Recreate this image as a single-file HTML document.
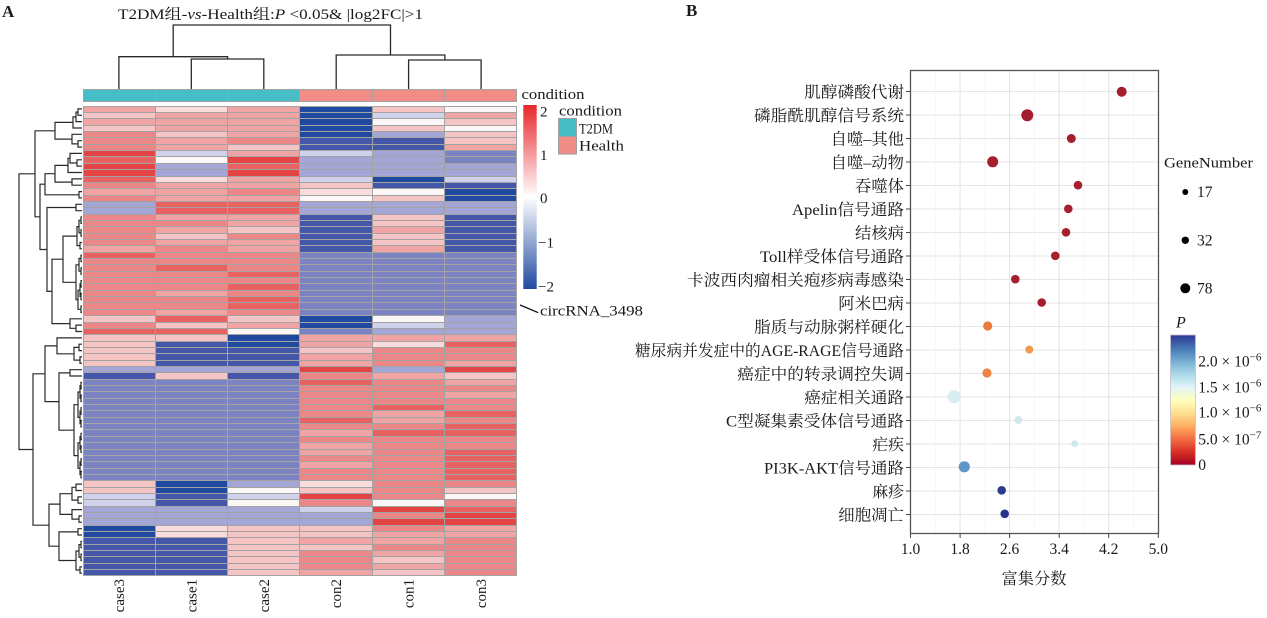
<!DOCTYPE html>
<html><head><meta charset="utf-8">
<style>
html,body{margin:0;padding:0;background:#fff;}
#w{position:relative;width:1267px;height:618px;overflow:hidden;background:#fff;}
svg{position:absolute;left:0;top:0;}
svg text{font-family:"Liberation Serif","Noto Serif CJK SC",serif;fill:#1a1a1a;}
.g{position:absolute;display:grid;grid-template-columns:repeat(6,1fr);gap:1px;padding:1px;box-sizing:border-box;background:#a3a3a3;}
#hm{left:82.7px;top:105.7px;width:434.6px;height:470.8px;grid-template-rows:repeat(74,1fr);}
#cb{left:82.7px;top:89.3px;width:434.6px;height:12.6px;grid-template-rows:1fr;}
.g i{display:block;}
.d{background:#1f4a9f}.m{background:#4557a8}.b{background:#7c83c3}.a{background:#a4a7d5}.c{background:#d0d1ea}
.w{background:#fcf7f7}.v{background:#f9dcdc}.p{background:#f5c4c4}.k{background:#f0a4a4}.q{background:#ec8787}
.r{background:#e86262}.s{background:#e54444}.t{background:#47bec6}.h{background:#ef8d86}
</style></head><body><div id="w">
<svg width="1267" height="618" viewBox="0 0 1267 618" xmlns="http://www.w3.org/2000/svg">
<defs>
<linearGradient id="hg" x1="0" y1="0" x2="0" y2="1">
<stop offset="0" stop-color="#e8262a"/><stop offset="0.5" stop-color="#ffffff"/><stop offset="1" stop-color="#1f4aa0"/>
</linearGradient>
<linearGradient id="pg" x1="0" y1="1" x2="0" y2="0">
<stop offset="0" stop-color="#a50026"/><stop offset="0.1" stop-color="#d73027"/><stop offset="0.2" stop-color="#f46d43"/><stop offset="0.3" stop-color="#fdae61"/><stop offset="0.4" stop-color="#fee090"/><stop offset="0.5" stop-color="#ffffbf"/><stop offset="0.6" stop-color="#e0f3f8"/><stop offset="0.7" stop-color="#abd9e9"/><stop offset="0.8" stop-color="#74add1"/><stop offset="0.9" stop-color="#4575b4"/><stop offset="1" stop-color="#313695"/>
</linearGradient>
</defs>

<!-- Panel A -->
<text x="2" y="17" font-size="17" font-weight="bold">A</text>
<text x="118" y="19" font-size="15" textLength="305" lengthAdjust="spacingAndGlyphs">T2DM组-<tspan font-style="italic">vs</tspan>-Health组:<tspan font-style="italic">P</tspan> &lt;0.05&amp; |log2FC|&gt;1</text>

<!-- column dendrogram -->
<path fill="none" stroke="#2a2a2a" stroke-width="1.3" d="M118.9 89V56.7H227.6V59 M191.3 89V59H263.8V89 M336.2 89V55H444.9V60 M408.6 89V60H481.1V89 M173.2 56.7V25H390.5V55"/>

<!-- row dendrogram -->
<path fill="none" stroke="#2a2a2a" stroke-width="1.2" d="
M82 108.9H78V115.3H82 M78 112.1H76V121.6H82 M76 116.9H73V128H82
M82 140.7H78V147.1H82 M82 134.3H72V143.9H78 M73 122.4H55V139.1H72
M82 159.8H77V166.1H82 M82 153.4H70V163H77 M70 158.2H68V172.5H82
M82 178.9H72V185.2H82 M68 165.4H55V182.1H72 M82 191.6H79V197.9H82 M55 173.7H45V194.8H79
M82 204.3H76V210.7H82
M82 217H81V223.4H82 M82 229.7H81V236.1H82 M82 242.5H80V248.8H82 M81 220.2H79V232.9H81 M79 226.6H77V245.6H80
M82 255.2H81V261.5H82 M82 267.9H81V274.3H82 M82 280.6H81V287H82 M82 293.3H81V299.7H82 M82 306.1H81V312.4H82
M81 258.4H79V271.1H81 M81 283.8H80V296.5H81 M80 290.2H78V309.3H81 M79 264.8H76V299.7H78
M77 236.1H63V282.3H76 M82 325.1H76V331.5H82 M82 318.8H70V328.3H76 M63 259.2H52V323.6H70
M76 207.5H47V291.4H52 M45 184.2H40V249.5H47 M55 130.8H35V216.8H40
M82 344.2H79V350.6H82 M82 356.9H80V363.3H82 M79 347.4H74V360.1H80 M82 337.9H57V353.8H74
M82 369.7H70V376H82
M82 382.4H81V388.7H82 M82 395.1H81V401.5H82 M82 407.8H81V414.2H82 M82 420.5H81V426.9H82
M82 433.3H81V439.6H82 M82 446H81V452.3H82 M82 458.7H81V465.1H82 M82 471.4H81V477.8H82
M81 385.6H80V398.3H81 M81 411H80V423.7H81 M81 436.5H80V449.2H81 M81 461.9H80V474.6H81
M80 392H78V417.4H80 M80 442.9H78V468.3H80 M78 404.7H74V455.6H78
M70 372.9H59V430.2H74 M57 345.9H45V401.6H59
M82 484.1H76V490.5H82 M82 496.9H78V503.2H82 M76 487.3H72V500.1H78
M82 515.9H79V522.3H82 M82 509.6H72V519.1H79 M72 493.7H60V514.4H72
M82 528.7H78V535H82 M82 541.4H81V547.7H82 M82 554.1H81V560.5H82 M82 566.8H80V573.2H82
M81 544.6H79V557.3H81 M79 551H76V570H80 M78 531.9H59V560.5H76
M60 504.1H49V546.2H59 M45 373.8H33V525.2H49 M35 173.8H19V449.5H33"/>

<!-- column labels -->
<text transform="translate(124,579) rotate(-90)" text-anchor="end" font-size="15">case3</text>
<text transform="translate(196.3,579) rotate(-90)" text-anchor="end" font-size="15">case1</text>
<text transform="translate(268.8,579) rotate(-90)" text-anchor="end" font-size="15">case2</text>
<text transform="translate(341.2,579) rotate(-90)" text-anchor="end" font-size="15">con2</text>
<text transform="translate(413.6,579) rotate(-90)" text-anchor="end" font-size="15">con1</text>
<text transform="translate(486.1,579) rotate(-90)" text-anchor="end" font-size="15">con3</text>

<!-- annotation / legends -->
<text x="521.5" y="99" font-size="15" textLength="63" lengthAdjust="spacingAndGlyphs">condition</text>
<rect x="523.3" y="105" width="13.4" height="184" fill="url(#hg)"/>
<text x="540" y="116.5" font-size="15">2</text>
<text x="540" y="160" font-size="15">1</text>
<text x="540" y="203" font-size="15">0</text>
<text x="538" y="247.5" font-size="15">−1</text>
<text x="538" y="291.5" font-size="15">−2</text>
<text x="559" y="115.5" font-size="15" textLength="63" lengthAdjust="spacingAndGlyphs">condition</text>
<rect x="558.5" y="118.5" width="18" height="18" fill="#47bec6" stroke="#a0a0a0" stroke-width="1"/>
<rect x="558.5" y="136.5" width="18" height="17.6" fill="#ef8d86" stroke="#a0a0a0" stroke-width="1"/>
<text x="579" y="133.3" font-size="15" textLength="34" lengthAdjust="spacingAndGlyphs">T2DM</text>
<text x="579" y="150.5" font-size="15" textLength="45" lengthAdjust="spacingAndGlyphs">Health</text>
<line x1="520" y1="305" x2="538.3" y2="312.7" stroke="#111" stroke-width="1.3"/>
<text x="540" y="315.7" font-size="15" textLength="103" lengthAdjust="spacingAndGlyphs">circRNA_3498</text>

<!-- Panel B -->
<text x="686" y="16" font-size="17" font-weight="bold">B</text>
<g stroke="#f3f3f3" stroke-width="0.6">
<line x1="935.3" y1="70" x2="935.3" y2="533.5"/><line x1="984.8" y1="70" x2="984.8" y2="533.5"/><line x1="1034.4" y1="70" x2="1034.4" y2="533.5"/><line x1="1084" y1="70" x2="1084" y2="533.5"/><line x1="1133.5" y1="70" x2="1133.5" y2="533.5"/>
</g>
<g stroke="#e6e6e6" stroke-width="1.1">
<line x1="960.1" y1="70" x2="960.1" y2="533.5"/><line x1="1009.6" y1="70" x2="1009.6" y2="533.5"/><line x1="1059.2" y1="70" x2="1059.2" y2="533.5"/><line x1="1108.7" y1="70" x2="1108.7" y2="533.5"/>
<line x1="910" x2="1158" y1="91.5" y2="91.5"/><line x1="910" x2="1158" y1="115" y2="115"/><line x1="910" x2="1158" y1="138.5" y2="138.5"/><line x1="910" x2="1158" y1="162" y2="162"/><line x1="910" x2="1158" y1="185.5" y2="185.5"/><line x1="910" x2="1158" y1="209" y2="209"/><line x1="910" x2="1158" y1="232.5" y2="232.5"/><line x1="910" x2="1158" y1="256" y2="256"/><line x1="910" x2="1158" y1="279.5" y2="279.5"/><line x1="910" x2="1158" y1="303" y2="303"/><line x1="910" x2="1158" y1="326.5" y2="326.5"/><line x1="910" x2="1158" y1="350" y2="350"/><line x1="910" x2="1158" y1="373.5" y2="373.5"/><line x1="910" x2="1158" y1="397" y2="397"/><line x1="910" x2="1158" y1="420.5" y2="420.5"/><line x1="910" x2="1158" y1="444" y2="444"/><line x1="910" x2="1158" y1="467.5" y2="467.5"/><line x1="910" x2="1158" y1="491" y2="491"/><line x1="910" x2="1158" y1="514.5" y2="514.5"/>
</g>
<!-- points -->
<g fill="#a51f2f">
<circle cx="1121.7" cy="91.7" r="5"/><circle cx="1027.3" cy="115.2" r="6"/><circle cx="1071.3" cy="138.5" r="4.5"/><circle cx="992.7" cy="161.8" r="5.5"/><circle cx="1078" cy="185.2" r="4.3"/><circle cx="1068.3" cy="208.8" r="4.3"/><circle cx="1066" cy="232.3" r="4.3"/><circle cx="1055.3" cy="255.8" r="4.3"/><circle cx="1015.3" cy="279.2" r="4.3"/><circle cx="1041.7" cy="302.5" r="4.3"/>
</g>
<circle cx="987.7" cy="326" r="4.6" fill="#eb7b3d"/>
<circle cx="1029.3" cy="349.6" r="4" fill="#f09a50"/>
<circle cx="987" cy="373" r="4.6" fill="#ed8543"/>
<circle cx="954" cy="396.7" r="6.5" fill="#d9ecf1"/>
<circle cx="1018.3" cy="420" r="4" fill="#d3e8ef"/>
<circle cx="1074.7" cy="443.7" r="3.4" fill="#d1e7ef"/>
<circle cx="964.3" cy="466.8" r="5.6" fill="#5f96c8"/>
<circle cx="1001.7" cy="490.3" r="4.3" fill="#2b3b91"/>
<circle cx="1004.7" cy="513.8" r="4.3" fill="#25348b"/>
<rect x="910.5" y="70.5" width="248" height="463" fill="none" stroke="#555" stroke-width="1.3"/>
<!-- ticks -->
<g stroke="#444" stroke-width="1">
<line x1="906" x2="910" y1="91.5" y2="91.5"/><line x1="906" x2="910" y1="115" y2="115"/><line x1="906" x2="910" y1="138.5" y2="138.5"/><line x1="906" x2="910" y1="162" y2="162"/><line x1="906" x2="910" y1="185.5" y2="185.5"/><line x1="906" x2="910" y1="209" y2="209"/><line x1="906" x2="910" y1="232.5" y2="232.5"/><line x1="906" x2="910" y1="256" y2="256"/><line x1="906" x2="910" y1="279.5" y2="279.5"/><line x1="906" x2="910" y1="303" y2="303"/><line x1="906" x2="910" y1="326.5" y2="326.5"/><line x1="906" x2="910" y1="350" y2="350"/><line x1="906" x2="910" y1="373.5" y2="373.5"/><line x1="906" x2="910" y1="397" y2="397"/><line x1="906" x2="910" y1="420.5" y2="420.5"/><line x1="906" x2="910" y1="444" y2="444"/><line x1="906" x2="910" y1="467.5" y2="467.5"/><line x1="906" x2="910" y1="491" y2="491"/><line x1="906" x2="910" y1="514.5" y2="514.5"/>
<line x1="910.5" x2="910.5" y1="534" y2="538"/><line x1="960.1" x2="960.1" y1="534" y2="538"/><line x1="1009.6" x2="1009.6" y1="534" y2="538"/><line x1="1059.2" x2="1059.2" y1="534" y2="538"/><line x1="1108.7" x2="1108.7" y1="534" y2="538"/><line x1="1158.3" x2="1158.3" y1="534" y2="538"/>
</g>
<!-- y labels -->
<g font-size="16" text-anchor="end" style="fill:#111">
<text x="904" y="97.5" textLength="99.7" lengthAdjust="spacingAndGlyphs">肌醇磷酸代谢</text>
<text x="904" y="121" textLength="150" lengthAdjust="spacingAndGlyphs">磷脂酰肌醇信号系统</text>
<text x="904" y="144.5" textLength="73.3" lengthAdjust="spacingAndGlyphs">自噬–其他</text>
<text x="904" y="168" textLength="73.3" lengthAdjust="spacingAndGlyphs">自噬–动物</text>
<text x="904" y="191.5" textLength="49" lengthAdjust="spacingAndGlyphs">吞噬体</text>
<text x="904" y="215" textLength="112" lengthAdjust="spacingAndGlyphs">Apelin信号通路</text>
<text x="904" y="238.5" textLength="49" lengthAdjust="spacingAndGlyphs">结核病</text>
<text x="904" y="262" textLength="144" lengthAdjust="spacingAndGlyphs">Toll样受体信号通路</text>
<text x="904" y="285.5" textLength="217" lengthAdjust="spacingAndGlyphs">卡波西肉瘤相关疱疹病毒感染</text>
<text x="904" y="309" textLength="65.7" lengthAdjust="spacingAndGlyphs">阿米巴病</text>
<text x="904" y="332.5" textLength="150" lengthAdjust="spacingAndGlyphs">脂质与动脉粥样硬化</text>
<text x="904" y="356" textLength="269" lengthAdjust="spacingAndGlyphs">糖尿病并发症中的AGE-RAGE信号通路</text>
<text x="904" y="379.5" textLength="166.7" lengthAdjust="spacingAndGlyphs">癌症中的转录调控失调</text>
<text x="904" y="403" textLength="99.7" lengthAdjust="spacingAndGlyphs">癌症相关通路</text>
<text x="904" y="426.5" textLength="178" lengthAdjust="spacingAndGlyphs">C型凝集素受体信号通路</text>
<text x="904" y="450" textLength="31.7" lengthAdjust="spacingAndGlyphs">疟疾</text>
<text x="904" y="473.5" textLength="140" lengthAdjust="spacingAndGlyphs">PI3K-AKT信号通路</text>
<text x="904" y="497" textLength="31.7" lengthAdjust="spacingAndGlyphs">麻疹</text>
<text x="904" y="520.5" textLength="65.7" lengthAdjust="spacingAndGlyphs">细胞凋亡</text>
</g>
<!-- x labels -->
<g font-size="15.5" text-anchor="middle">
<text x="910.5" y="554">1.0</text><text x="960.1" y="554">1.8</text><text x="1009.6" y="554">2.6</text><text x="1059.2" y="554">3.4</text><text x="1108.7" y="554">4.2</text><text x="1158.3" y="554">5.0</text>
</g>
<text x="1034" y="584" font-size="16" text-anchor="middle" textLength="65" lengthAdjust="spacingAndGlyphs">富集分数</text>

<!-- GeneNumber legend -->
<text x="1164" y="167.3" font-size="15" textLength="89" lengthAdjust="spacingAndGlyphs">GeneNumber</text>
<circle cx="1185.3" cy="192" r="3" fill="#000"/>
<circle cx="1185.3" cy="240.3" r="3.7" fill="#000"/>
<circle cx="1185.3" cy="288.3" r="5" fill="#000"/>
<text x="1197" y="197" font-size="15.5">17</text>
<text x="1197" y="245.5" font-size="15.5">32</text>
<text x="1197" y="293.5" font-size="15.5">78</text>

<!-- P legend -->
<text x="1176" y="327.3" font-size="16" font-style="italic">P</text>
<rect x="1170.5" y="335" width="25" height="130" fill="url(#pg)" stroke="#c8c0cc" stroke-width="0.8"/>
<g font-size="15.5">
<text x="1198.3" y="366.5">2.0 × 10<tspan font-size="11" dy="-6">−6</tspan></text>
<text x="1198.3" y="392.5">1.5 × 10<tspan font-size="11" dy="-6">−6</tspan></text>
<text x="1198.3" y="417.5">1.0 × 10<tspan font-size="11" dy="-6">−6</tspan></text>
<text x="1198.3" y="444.5">5.0 × 10<tspan font-size="11" dy="-6">−7</tspan></text>
<text x="1198.3" y="470">0</text>
</g>
</svg>

<div class="g" id="cb"><i class="t"></i><i class="t"></i><i class="t"></i><i class="h"></i><i class="h"></i><i class="h"></i></div>

<div class="g" id="hm">
<i class="k"></i><i class="v"></i><i class="k"></i><i class="d"></i><i class="p"></i><i class="w"></i>
<i class="p"></i><i class="k"></i><i class="k"></i><i class="d"></i><i class="c"></i><i class="k"></i>
<i class="k"></i><i class="k"></i><i class="k"></i><i class="d"></i><i class="w"></i><i class="p"></i>
<i class="p"></i><i class="k"></i><i class="k"></i><i class="d"></i><i class="p"></i><i class="w"></i>
<i class="q"></i><i class="p"></i><i class="k"></i><i class="d"></i><i class="a"></i><i class="p"></i>
<i class="q"></i><i class="k"></i><i class="q"></i><i class="m"></i><i class="m"></i><i class="p"></i>
<i class="q"></i><i class="k"></i><i class="p"></i><i class="m"></i><i class="m"></i><i class="k"></i>
<i class="s"></i><i class="c"></i><i class="k"></i><i class="c"></i><i class="a"></i><i class="b"></i>
<i class="r"></i><i class="w"></i><i class="s"></i><i class="a"></i><i class="a"></i><i class="b"></i>
<i class="s"></i><i class="a"></i><i class="r"></i><i class="a"></i><i class="a"></i><i class="a"></i>
<i class="s"></i><i class="a"></i><i class="s"></i><i class="a"></i><i class="a"></i><i class="a"></i>
<i class="r"></i><i class="v"></i><i class="k"></i><i class="c"></i><i class="d"></i><i class="c"></i>
<i class="q"></i><i class="k"></i><i class="k"></i><i class="p"></i><i class="m"></i><i class="m"></i>
<i class="k"></i><i class="k"></i><i class="q"></i><i class="v"></i><i class="w"></i><i class="d"></i>
<i class="q"></i><i class="k"></i><i class="k"></i><i class="w"></i><i class="p"></i><i class="d"></i>
<i class="a"></i><i class="r"></i><i class="r"></i><i class="a"></i><i class="a"></i><i class="a"></i>
<i class="a"></i><i class="r"></i><i class="r"></i><i class="a"></i><i class="a"></i><i class="a"></i>
<i class="q"></i><i class="k"></i><i class="k"></i><i class="m"></i><i class="p"></i><i class="m"></i>
<i class="q"></i><i class="q"></i><i class="k"></i><i class="m"></i><i class="p"></i><i class="m"></i>
<i class="q"></i><i class="k"></i><i class="p"></i><i class="m"></i><i class="k"></i><i class="m"></i>
<i class="q"></i><i class="p"></i><i class="q"></i><i class="m"></i><i class="p"></i><i class="m"></i>
<i class="q"></i><i class="k"></i><i class="k"></i><i class="m"></i><i class="p"></i><i class="m"></i>
<i class="k"></i><i class="q"></i><i class="k"></i><i class="m"></i><i class="k"></i><i class="m"></i>
<i class="r"></i><i class="q"></i><i class="q"></i><i class="b"></i><i class="b"></i><i class="b"></i>
<i class="q"></i><i class="q"></i><i class="q"></i><i class="b"></i><i class="b"></i><i class="b"></i>
<i class="q"></i><i class="r"></i><i class="q"></i><i class="b"></i><i class="b"></i><i class="b"></i>
<i class="q"></i><i class="q"></i><i class="r"></i><i class="b"></i><i class="b"></i><i class="b"></i>
<i class="q"></i><i class="q"></i><i class="q"></i><i class="b"></i><i class="b"></i><i class="b"></i>
<i class="q"></i><i class="q"></i><i class="r"></i><i class="b"></i><i class="b"></i><i class="b"></i>
<i class="q"></i><i class="k"></i><i class="q"></i><i class="b"></i><i class="b"></i><i class="b"></i>
<i class="q"></i><i class="q"></i><i class="r"></i><i class="b"></i><i class="b"></i><i class="b"></i>
<i class="q"></i><i class="q"></i><i class="r"></i><i class="b"></i><i class="b"></i><i class="b"></i>
<i class="q"></i><i class="k"></i><i class="q"></i><i class="b"></i><i class="b"></i><i class="b"></i>
<i class="p"></i><i class="r"></i><i class="p"></i><i class="d"></i><i class="w"></i><i class="a"></i>
<i class="q"></i><i class="p"></i><i class="k"></i><i class="d"></i><i class="c"></i><i class="a"></i>
<i class="r"></i><i class="r"></i><i class="w"></i><i class="b"></i><i class="a"></i><i class="a"></i>
<i class="p"></i><i class="p"></i><i class="d"></i><i class="k"></i><i class="k"></i><i class="k"></i>
<i class="p"></i><i class="m"></i><i class="d"></i><i class="k"></i><i class="v"></i><i class="r"></i>
<i class="p"></i><i class="m"></i><i class="m"></i><i class="p"></i><i class="q"></i><i class="q"></i>
<i class="p"></i><i class="m"></i><i class="m"></i><i class="k"></i><i class="q"></i><i class="q"></i>
<i class="p"></i><i class="m"></i><i class="m"></i><i class="k"></i><i class="q"></i><i class="k"></i>
<i class="a"></i><i class="a"></i><i class="a"></i><i class="s"></i><i class="a"></i><i class="s"></i>
<i class="m"></i><i class="p"></i><i class="m"></i><i class="q"></i><i class="k"></i><i class="p"></i>
<i class="b"></i><i class="b"></i><i class="b"></i><i class="r"></i><i class="q"></i><i class="k"></i>
<i class="b"></i><i class="b"></i><i class="b"></i><i class="q"></i><i class="q"></i><i class="q"></i>
<i class="b"></i><i class="b"></i><i class="b"></i><i class="q"></i><i class="q"></i><i class="k"></i>
<i class="b"></i><i class="b"></i><i class="b"></i><i class="q"></i><i class="q"></i><i class="q"></i>
<i class="b"></i><i class="b"></i><i class="b"></i><i class="q"></i><i class="r"></i><i class="q"></i>
<i class="b"></i><i class="b"></i><i class="b"></i><i class="q"></i><i class="k"></i><i class="r"></i>
<i class="b"></i><i class="b"></i><i class="b"></i><i class="r"></i><i class="k"></i><i class="q"></i>
<i class="b"></i><i class="b"></i><i class="b"></i><i class="q"></i><i class="q"></i><i class="r"></i>
<i class="b"></i><i class="b"></i><i class="b"></i><i class="k"></i><i class="r"></i><i class="r"></i>
<i class="b"></i><i class="b"></i><i class="b"></i><i class="q"></i><i class="q"></i><i class="q"></i>
<i class="b"></i><i class="b"></i><i class="b"></i><i class="k"></i><i class="q"></i><i class="q"></i>
<i class="b"></i><i class="b"></i><i class="b"></i><i class="k"></i><i class="q"></i><i class="r"></i>
<i class="b"></i><i class="b"></i><i class="b"></i><i class="q"></i><i class="q"></i><i class="r"></i>
<i class="b"></i><i class="b"></i><i class="b"></i><i class="k"></i><i class="q"></i><i class="r"></i>
<i class="b"></i><i class="b"></i><i class="b"></i><i class="q"></i><i class="q"></i><i class="r"></i>
<i class="b"></i><i class="b"></i><i class="b"></i><i class="q"></i><i class="q"></i><i class="r"></i>
<i class="p"></i><i class="d"></i><i class="a"></i><i class="v"></i><i class="q"></i><i class="q"></i>
<i class="p"></i><i class="d"></i><i class="w"></i><i class="p"></i><i class="q"></i><i class="p"></i>
<i class="c"></i><i class="m"></i><i class="c"></i><i class="s"></i><i class="q"></i><i class="w"></i>
<i class="c"></i><i class="m"></i><i class="w"></i><i class="q"></i><i class="w"></i><i class="q"></i>
<i class="a"></i><i class="a"></i><i class="a"></i><i class="c"></i><i class="s"></i><i class="r"></i>
<i class="a"></i><i class="a"></i><i class="a"></i><i class="a"></i><i class="q"></i><i class="s"></i>
<i class="a"></i><i class="a"></i><i class="a"></i><i class="a"></i><i class="s"></i><i class="s"></i>
<i class="d"></i><i class="v"></i><i class="p"></i><i class="p"></i><i class="q"></i><i class="k"></i>
<i class="d"></i><i class="v"></i><i class="p"></i><i class="p"></i><i class="k"></i><i class="k"></i>
<i class="m"></i><i class="m"></i><i class="p"></i><i class="k"></i><i class="k"></i><i class="q"></i>
<i class="m"></i><i class="m"></i><i class="p"></i><i class="p"></i><i class="q"></i><i class="q"></i>
<i class="m"></i><i class="m"></i><i class="p"></i><i class="q"></i><i class="k"></i><i class="q"></i>
<i class="m"></i><i class="m"></i><i class="p"></i><i class="q"></i><i class="p"></i><i class="q"></i>
<i class="m"></i><i class="m"></i><i class="p"></i><i class="q"></i><i class="k"></i><i class="q"></i>
<i class="m"></i><i class="m"></i><i class="p"></i><i class="k"></i><i class="p"></i><i class="q"></i>
</div>
</div></body></html>
